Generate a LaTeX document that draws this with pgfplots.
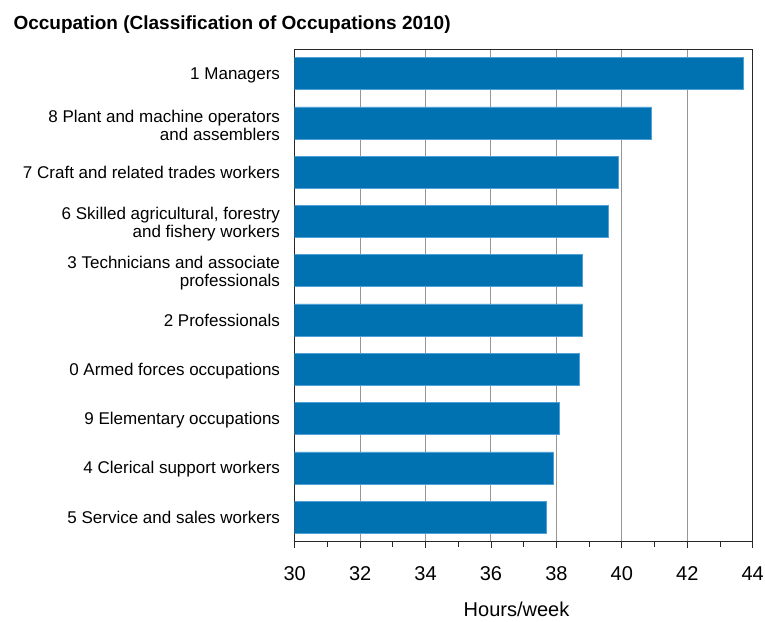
\documentclass[border=0pt]{standalone}
\usepackage{pgfplots}
\pgfplotsset{compat=1.18}
\usepackage{fontspec}
\setmainfont{Liberation Sans}
\definecolor{barblue}{RGB}{0,113,177}
\definecolor{baredge}{RGB}{80,160,215}
\definecolor{gridgray}{RGB}{150,150,150}
\definecolor{axisdark}{RGB}{40,40,40}
\begin{document}
\begin{tikzpicture}
\begin{axis}[
  at={(294.7pt,-541.7pt)}, anchor=south west,
  scale only axis, width=458pt, height=492.7pt,
  xbar, bar width=32pt, bar shift=0pt,
  xmin=30, xmax=44, ymin=-0.5, ymax=9.5,
  y dir=reverse,
  xtick={30,32,...,44},
  minor xtick={31,33,...,43},
  ytick={0,...,9},
  yticklabels={1 Managers,{8 Plant and machine operators\\and assemblers},7 Craft and related trades workers,{6 Skilled agricultural, forestry\\and fishery workers},{3 Technicians and associate\\professionals},2 Professionals,0 Armed forces occupations,9 Elementary occupations,4 Clerical support workers,5 Service and sales workers},
  yticklabel style={align=right, font=\fontsize{17}{18}\selectfont, inner sep=0pt, xshift=-8.5pt, yshift=-2.5pt},
  xticklabel style={font=\fontsize{20}{22}\selectfont, anchor=base, inner sep=0pt, yshift=-33pt},
  typeset ticklabels with strut,
  /pgf/number format/assume math mode=true,
  tick align=outside,
  xtick pos=bottom,
  major tick length=6pt, minor tick length=5pt,
  ymajorticks=true, ytick style={draw=none},
  xmajorgrids=true,
  major grid style={gridgray, line width=1pt},
  axis line style={axisdark, line width=1pt},
  tick style={axisdark, line width=0.8pt},
  axis on top=false,
]
\addplot[fill=barblue, draw=baredge, line width=0.6pt] coordinates {
  (43.7,0) (40.9,1) (39.9,2) (39.6,3) (38.8,4)
  (38.8,5) (38.7,6) (38.1,7) (37.9,8) (37.7,9)
};
\end{axis}
\node[anchor=base west, font=\fontsize{19}{22}\selectfont\bfseries] at (10pt,-29.5pt) {Occupation (Classification of Occupations 2010)};
\node[anchor=base, font=\fontsize{20}{22}\selectfont] at (516.5pt,-616pt) {Hours/week};
\pgfresetboundingbox
\path[use as bounding box] (0pt,0pt) rectangle (765pt,-621pt);
\end{tikzpicture}
\end{document}
